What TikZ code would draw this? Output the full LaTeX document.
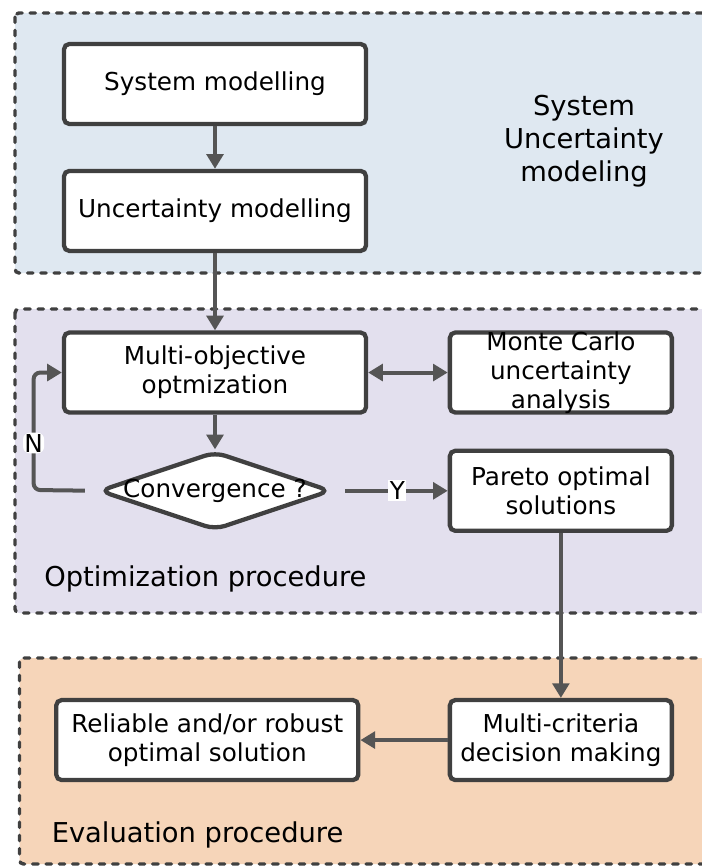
\documentclass[tikz,border=0pt]{standalone}
\usepackage{fontspec}
\setmainfont{DejaVu Sans}
\usetikzlibrary{positioning, calc, shapes.geometric, arrows.meta}
\definecolor{sysblue}{HTML}{DFE8F1}
\definecolor{optlilac}{HTML}{E3E0EE}
\definecolor{evalpeach}{HTML}{F6D5B9}
\definecolor{edgegray}{HTML}{404040}
\definecolor{linkgray}{HTML}{555555}

\begin{document}
\begin{tikzpicture}[
  x=0.75pt, y=-0.75pt, % pixel grid, y runs downwards
  every node/.style={font={\fontsize{18.5}{21.75}\selectfont}, align=center},
  box/.style={
    rectangle, draw=edgegray, fill=white, line width=3.2pt,
    rounded corners=4pt, minimum width=226.5pt, minimum height=60pt,
    inner sep=0pt
  },
  smallbox/.style={box, minimum width=166.5pt},
  decision/.style={
    diamond, draw=edgegray, fill=white, line width=3.2pt,
    rounded corners=8pt, minimum width=174pt, minimum height=59pt,
    inner sep=0pt
  },
  zone/.style={
    draw=edgegray, line width=2.6pt, line cap=round,
    dash pattern=on 4pt off 6pt, rounded corners=3pt
  },
  zonelabel/.style={font={\fontsize{20.5}{24.75}\selectfont}, inner sep=0pt},
  link/.style={draw=linkgray, line width=3pt, ->},
  tag/.style={fill=white, inner sep=1pt},
  >={Triangle[length=11pt, width=12.5pt]}, % filled tips
]
  \clip (0,0) rectangle (702,866);

  % dashed zones (run out on the right)
  \draw[zone, fill=sysblue] (15,13) rectangle (730,273);
  \draw[zone, fill=optlilac] (15,309) rectangle (730,613);
  \draw[zone, fill=evalpeach] (19.5,658) rectangle (730,864);
  %% labels
  \node[zonelabel] (syslabel) at (584,141) {System\\Uncertainty\\modeling};
  \node[zonelabel, anchor=west] (optlabel) at (44,579) {Optimization procedure};
  \node[zonelabel, anchor=west] (evallabel) at (51.5,835) {Evaluation procedure};

  % modelling
  \node[box] (sysmod) at (215,84) {System modelling};
  \node[box, below=32pt of sysmod] (uncmod) {Uncertainty modelling};

  % optimization loop
  \node[box, below=58pt of uncmod] (moo) {Multi-objective\\optmization};
  \node[smallbox, inner ysep=-1pt, right=59.7pt of moo] (mc)
    {Monte Carlo\\uncertainty\\analysis};
  \node[decision, below=26pt of moo, label={center:Convergence ?}] (conv) {};
  \node[smallbox, below=25.5pt of mc] (pareto) {Pareto optimal\\solutions};

  % evaluation
  \node[smallbox, below=123.75pt of pareto] (mcdm) {Multi-criteria\\decision making};
  \node[box, left=65.5pt of mcdm] (reliable) {Reliable and/or robust\\optimal solution};

  % arrows
  \draw[link] (sysmod) -- (uncmod);
  \draw[link] (uncmod) -- (moo);
  \draw[link, <->] (moo) -- (mc);
  \draw[link] (moo) -- (conv);
  %% no: back to the optimizer
  \coordinate (nturn) at (33.6,490);
  \draw[link, rounded corners=5pt, shorten <=9pt]
    (conv.west) -- (nturn) |- node[tag, pos=0.2] {N} (moo.west);
  %% yes: to the front
  \draw[link, shorten <=9pt]
    (conv.east) -- node[tag, pos=0.56] {Y} (pareto.west);
  \draw[link] (pareto) -- (mcdm);
  \draw[link] (mcdm) -- (reliable);

\end{tikzpicture}
\end{document}
